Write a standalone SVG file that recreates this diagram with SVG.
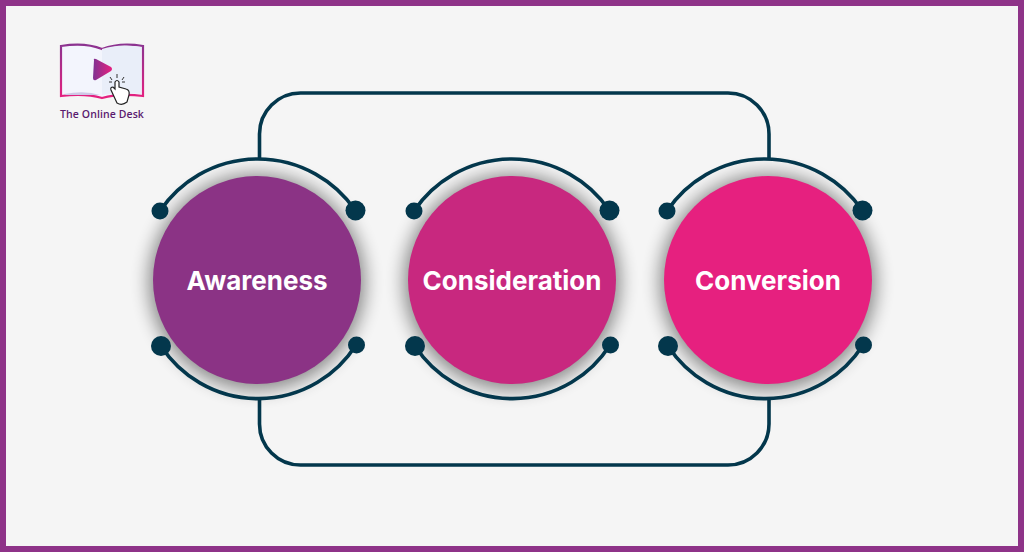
<svg xmlns="http://www.w3.org/2000/svg" width="1024" height="552" viewBox="0 0 1024 552">
<style>
.wire{fill:none;stroke:#03374c;stroke-width:3.6}
.dot{fill:#03374c}
.label{font-family:"Inter","Liberation Sans",sans-serif;font-weight:700;font-size:26px;fill:#fff;text-anchor:middle}
.logo{font-family:"Open Sans","Liberation Sans",sans-serif;font-weight:600;font-size:10.500px;letter-spacing:.1px;fill:#5a1a6e}
</style>
<defs>
<filter id="sh" x="-30%" y="-30%" width="160%" height="160%"><feGaussianBlur stdDeviation="9"/></filter>
<linearGradient id="pl" x1="0" x2="1" y1="0" y2="0"><stop offset="0" stop-color="#7f3292"/><stop offset="1" stop-color="#e6207f"/></linearGradient>
<linearGradient id="bk" x1="0" x2="0" y1="0" y2="1"><stop offset="0" stop-color="#8b3390"/><stop offset="1" stop-color="#e6207f"/></linearGradient>
</defs>
<rect x="3" y="3" width="1018" height="546" fill="#f5f5f5" stroke="#8e3388" stroke-width="6"/>
<g id="logo">
<path d="M61 46Q85 42 102 49Q120 42 143 46V96Q120 93 102 98Q85 93 61 96Z" fill="#f3f5fd" stroke="url(#bk)" stroke-width="2.200"/>
<path d="M102 49Q120 43 141 47V94Q120 91 102 95Z" fill="#e9eef9"/>
<path d="M64 94Q85 90 100 95H66Z" fill="#cfc8e6"/>
<path d="M94 60Q93 58 96 59L111 67Q113 69 111 71L96 80Q93 81 93 78Z" fill="url(#pl)"/>
<path d="M117 103L111 90Q110 87 113 87L115 89V82Q117 79 119 82V87L126 89Q130 90 129 95L127 102Q122 106 117 103Z" fill="#fff" stroke="#222" stroke-width="1.200"/>
<path d="M117 74V78M110 77L112 80M124 77L122 80M109 82H112M122 82H125" fill="none" stroke="#333" stroke-width="1"/>
<text class="logo" x="60" y="118">The Online Desk</text>
</g>
<g id="connectors">
<path class="wire" d="M259.500 159V134A41 41 0 0 1 300.500 93H728A41 41 0 0 1 769 134V159"/>
<path class="wire" d="M259.500 398V424A41 41 0 0 0 300.500 465H728A41 41 0 0 0 769 424V398"/>
</g>
<g id="node-awareness">
<circle cx="257" cy="282" r="108" fill="#000" opacity=".45" filter="url(#sh)"/>
<path class="wire" d="M160 211A118 118 0 0 1 355 210"/><path class="wire" d="M161 346A116 116 0 0 0 356 345"/>
<circle class="dot" cx="160" cy="211" r="8.500"/><circle class="dot" cx="355.500" cy="210.500" r="10"/><circle class="dot" cx="161" cy="346" r="10"/><circle class="dot" cx="356.500" cy="345" r="8.500"/>
<circle cx="257" cy="280" r="104" fill="#8b3385"/>
<text class="label" x="257" y="290">Awareness</text>
</g>
<g id="node-consideration">
<circle cx="512" cy="282" r="108" fill="#000" opacity=".45" filter="url(#sh)"/>
<path class="wire" d="M414 211A118 118 0 0 1 609 210"/><path class="wire" d="M415 346A116 116 0 0 0 610 345"/>
<circle class="dot" cx="414" cy="211" r="8.500"/><circle class="dot" cx="609.500" cy="210.500" r="10"/><circle class="dot" cx="415" cy="346" r="10"/><circle class="dot" cx="610.500" cy="345" r="8.500"/>
<circle cx="512" cy="280" r="104" fill="#c8287f"/>
<text class="label" x="512" y="290">Consideration</text>
</g>
<g id="node-conversion">
<circle cx="768" cy="282" r="108" fill="#000" opacity=".45" filter="url(#sh)"/>
<path class="wire" d="M667 211A118 118 0 0 1 862 210"/><path class="wire" d="M668 346A116 116 0 0 0 863 345"/>
<circle class="dot" cx="667" cy="211" r="8.500"/><circle class="dot" cx="862.500" cy="210.500" r="10"/><circle class="dot" cx="668" cy="346" r="10"/><circle class="dot" cx="863.500" cy="345" r="8.500"/>
<circle cx="768" cy="280" r="104" fill="#e6207f"/>
<text class="label" x="768" y="290">Conversion</text>
</g>
</svg>
